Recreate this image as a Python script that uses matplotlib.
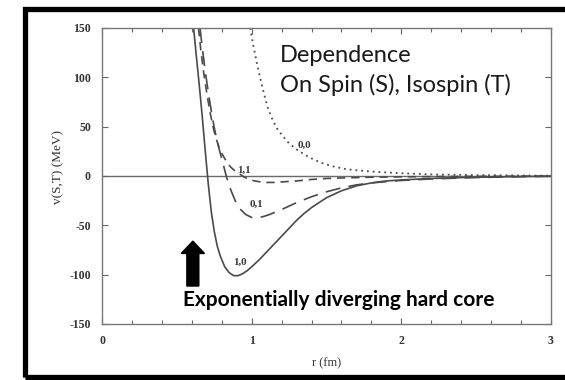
import matplotlib
matplotlib.use("Agg")
import matplotlib.pyplot as plt
from matplotlib.patches import Rectangle, FancyArrow
from matplotlib.ticker import MultipleLocator

plt.rcParams["axes.unicode_minus"] = False

# Nucleon-nucleon potential v(S,T) in MeV versus separation r in fm
r_10 = [0.612, 0.63, 0.65, 0.67, 0.69, 0.71, 0.73, 0.75, 0.77, 0.79, 0.82, 0.85,
        0.88, 0.91, 0.94, 0.97, 1.00, 1.05, 1.10, 1.15, 1.20, 1.25, 1.30, 1.35,
        1.40, 1.50, 1.60, 1.70, 1.80, 1.90, 2.00, 2.20, 2.40, 2.60, 2.80, 3.00]
v_10 = [150, 122, 92, 60, 25, -8, -36, -56, -71, -81, -92, -98,
        -101, -101, -99, -96, -92, -85, -77, -69, -61, -53, -45, -38,
        -32, -22, -15, -10, -7, -5, -4, -2.5, -1.6, -1, -0.5, -0.2]

r_01 = [0.655, 0.67, 0.69, 0.71, 0.73, 0.75, 0.77, 0.79, 0.81, 0.83, 0.86, 0.89,
        0.92, 0.96, 1.00, 1.04, 1.08, 1.12, 1.20, 1.30, 1.40, 1.50, 1.60, 1.70,
        1.80, 2.00, 2.20, 2.50, 2.80, 3.00]
v_01 = [150, 130, 106, 85, 66, 49, 35, 23, 12, 0, -14, -25,
        -33, -39, -42, -42.5, -41, -39, -34, -27, -21, -16, -12, -9,
        -7, -4.5, -3, -1.5, -0.7, -0.3]

r_11 = [0.645, 0.66, 0.68, 0.70, 0.72, 0.74, 0.76, 0.78, 0.80, 0.83, 0.86, 0.89,
        0.92, 0.95, 0.98, 1.02, 1.06, 1.10, 1.15, 1.20, 1.30, 1.40, 1.50, 1.60,
        1.80, 2.00, 2.40, 3.00]
v_11 = [150, 128, 104, 84, 66, 51, 39, 30, 23, 15, 9, 5,
        2, -1, -3.5, -5, -6, -6.5, -6.5, -6, -5, -3.5, -2.5, -2,
        -1.2, -0.8, -0.4, -0.1]

r_00 = [0.99, 1.01, 1.03, 1.05, 1.07, 1.09, 1.11, 1.14, 1.17, 1.21, 1.25, 1.30,
        1.35, 1.41, 1.48, 1.55, 1.63, 1.72, 1.85, 2.00, 2.20, 2.50, 2.80, 3.00]
v_00 = [150, 133, 118, 104, 91, 79, 68, 57, 48, 40, 33, 27,
        22, 17, 12.5, 9.5, 7, 5.5, 4, 2.8, 1.6, 0.9, 0.5, 0.3]

curve_labels = ["1,0", "0,1", "1,1", "0,0"]
label_pos = [(0.92, -87), (1.03, -29), (0.95, 6), (1.35, 31)]

x_ticks = [0, 1, 2, 3]
y_ticks = [-150, -100, -50, 0, 50, 100, 150]

line_col = "#4a4a4a"
serif = ["Liberation Serif", "DejaVu Serif"]
sans = ["Lato", "DejaVu Sans"]

fig = plt.figure(figsize=(5.65, 3.8), dpi=100)
ax = fig.add_axes([102 / 565, 56 / 380, 449 / 565, 296 / 380])

ax.axhline(0, color="#6a6a6a", lw=1.0, zorder=1)
ax.plot(r_10, v_10, color=line_col, lw=1.2, ls="-")
ax.plot(r_01, v_01, color=line_col, lw=1.2, ls=(0, (9, 5)))
ax.plot(r_11, v_11, color=line_col, lw=1.2, ls=(0, (5, 3.5)))
ax.plot(r_00, v_00, color=line_col, lw=1.3, ls=(0, (1, 2.2)))

for lab, (x, y) in zip(curve_labels, label_pos):
    ax.text(x, y, lab, family=serif, fontsize=8, fontweight="bold",
            color="#3a3a3a", ha="center", va="center")

ax.set_xlim(0, 3)
ax.set_ylim(-150, 150)
ax.set_xticks(x_ticks)
ax.set_yticks(y_ticks)
ax.xaxis.set_minor_locator(MultipleLocator(0.2))
ax.tick_params(which="both", direction="in", top=True, right=True,
               color="#666666", width=0.8, labelsize=8.5, pad=8)
ax.tick_params(which="major", length=4)
ax.tick_params(which="minor", length=3)
for lbl in ax.get_xticklabels() + ax.get_yticklabels():
    lbl.set_family(serif)
    lbl.set_fontweight("bold")
    lbl.set_color("#333333")
for sp in ax.spines.values():
    sp.set_color("#777777")
    sp.set_linewidth(1.0)

ax.set_xlabel("r (fm)", family=serif, fontsize=9, color="#333333", labelpad=7)
ax.set_ylabel("v(S,T) (MeV)", family=serif, fontsize=9.5, color="#333333",
              labelpad=2)
ax.yaxis.set_label_coords(-0.085, 0.53)

# Arrow pointing at the repulsive core
ax.add_patch(FancyArrow(0.607, -111.5, 0, 45.5, width=0.08, head_width=0.155,
                        head_length=12.5, length_includes_head=True,
                        color="black", zorder=5))

fig.text(280 / 565, 1 - 62 / 380, "Dependence", family=sans,
         fontsize=17, color="#1a1a1a", va="baseline")
fig.text(280 / 565, 1 - 92 / 380, "On Spin (S), Isospin (T)",
         family=sans, fontsize=17, color="#1a1a1a", va="baseline")
fig.text(183 / 565, 1 - 306 / 380, "Exponentially diverging hard core",
         family=sans, fontsize=15, fontweight="bold",
         color="black", va="baseline")

# Outer frame (runs off the right edge)
fig.patches.append(Rectangle((24.5 / 565, 3 / 380), 600 / 565, 368.5 / 380,
                             transform=fig.transFigure, fill=False,
                             edgecolor="black", linewidth=3.8))

fig.savefig("out.png", dpi=100)
